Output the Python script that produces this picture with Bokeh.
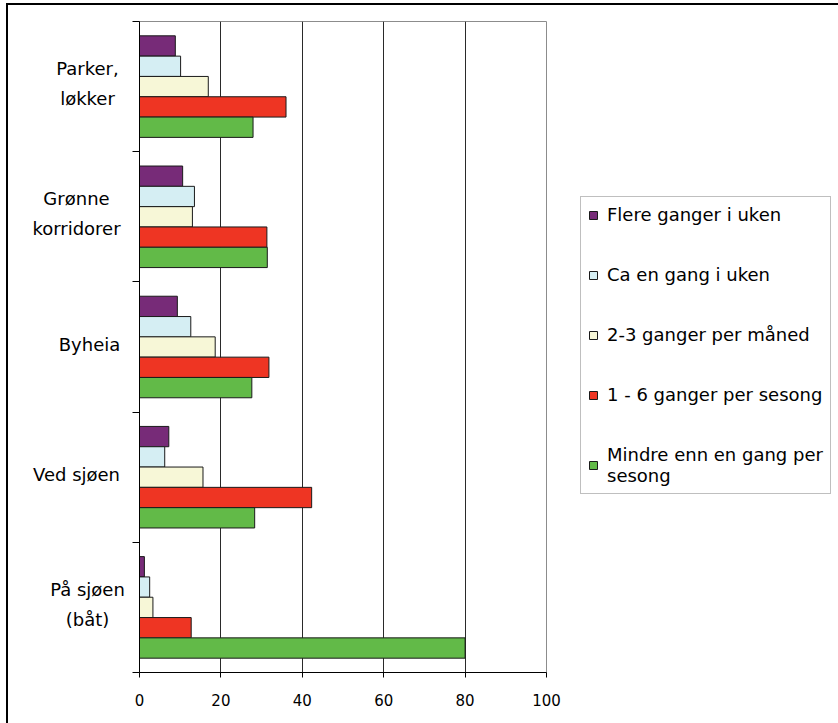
from bokeh.plotting import figure
from bokeh.models import Range1d, FixedTicker, Legend, LegendItem
from bokeh.core.properties import value
from bokeh.layouts import row
from bokeh.embed import file_html
from bokeh.resources import INLINE

# ---- data ----
categories = ["Parker,\nløkker", "Grønne\nkorridorer", "Byheia", "Ved sjøen", "På sjøen\n(båt)"]
series_names = ["Flere ganger i uken", "Ca en gang i uken", "2-3 ganger per måned",
                "1 - 6 ganger per sesong", "Mindre enn en gang per\nsesong"]
flere_ganger = [8.8, 10.6, 9.3, 7.2, 1.2]
ca_en_gang = [10.1, 13.5, 12.6, 6.2, 2.5]
to_tre_ganger = [16.9, 13.0, 18.6, 15.6, 3.3]
en_seks_ganger = [36.0, 31.3, 31.8, 42.3, 12.7]
mindre_enn = [27.9, 31.4, 27.6, 28.3, 80.0]
x_ticks = [0, 20, 40, 60, 80, 100]

series_values = [flere_ganger, ca_en_gang, to_tre_ganger, en_seks_ganger, mindre_enn]
colors = ["#772B78", "#D5EEF3", "#F7F7D7", "#EE3523", "#62BA48"]

n = len(categories)
bar_h = 0.156
centers = [n - 1 - i + 0.5 for i in range(n)]

# ---- main chart ----
p = figure(width=706, height=718, frame_width=407, frame_height=651,
           min_border_left=7, min_border_right=292, min_border_top=16, min_border_bottom=51,
           x_range=Range1d(0, 100), y_range=Range1d(0, n),
           output_backend="svg", toolbar_location=None,
           background_fill_color="white", border_fill_color="white")
p.outline_line_color = "#8C8C8C"
p.outline_line_width = 1

renderers = []
for k, vals in enumerate(series_values):
    ys = [c + (2 - k) * bar_h for c in centers]
    r = p.hbar(y=ys, left=0, right=vals, height=bar_h,
               fill_color=colors[k], line_color="#1A1A1A", line_width=1)
    renderers.append(r)

p.xaxis.ticker = FixedTicker(ticks=x_ticks)
p.xaxis.major_tick_out = 5
p.xaxis.major_tick_in = 0
p.xaxis.minor_tick_line_color = None
p.xaxis.axis_line_color = "black"
p.xaxis.major_tick_line_color = "black"
p.xaxis.major_label_text_font = "DejaVu Sans"
p.xaxis.major_label_text_font_size = "15px"
p.xaxis.major_label_text_color = "black"
p.xaxis.major_label_standoff = 16

p.yaxis.ticker = FixedTicker(ticks=list(range(n + 1)))
p.yaxis.major_label_overrides = {i: "" for i in range(n + 1)}
p.yaxis.major_tick_out = 7
p.yaxis.major_tick_in = 0
p.yaxis.major_label_standoff = 0
p.yaxis.minor_tick_line_color = None
p.yaxis.axis_line_color = "black"
p.yaxis.major_tick_line_color = "black"

p.xgrid.ticker = FixedTicker(ticks=[20, 40, 60, 80])
p.xgrid.grid_line_color = "#2A2A2A"
p.xgrid.grid_line_width = 1
p.ygrid.visible = False

legend = Legend(items=[LegendItem(label=series_names[k], renderers=[renderers[k]]) for k in range(5)],
                location=(34, 178))
legend.border_line_color = "#808080"
legend.border_line_width = 1
legend.background_fill_color = "white"
legend.background_fill_alpha = 1
legend.padding = 7
legend.spacing = 39
legend.margin = 0
legend.glyph_width = 10
legend.glyph_height = 10
legend.label_standoff = 9
legend.label_height = 20
legend.label_text_font = "DejaVu Sans"
legend.label_text_font_size = "18px"
legend.label_text_line_height = 1.5
legend.label_text_color = "black"
p.add_layout(legend, "right")

# ---- category labels (left strip sharing the y scale) ----
label_x = [79, 68, 81, 68, 79]  # horizontal centre of each label block in the strip (px)
lab = figure(width=124, height=718, frame_width=124, frame_height=651,
             min_border_left=0, min_border_right=0, min_border_top=16, min_border_bottom=51,
             x_range=Range1d(0, 124), y_range=p.y_range,
             x_axis_location=None, y_axis_location=None,
             output_backend="svg", toolbar_location=None,
             background_fill_color="white", border_fill_color="white")
lab.outline_line_color = None
lab.xgrid.visible = False
lab.ygrid.visible = False
lab.text(x=label_x, y=centers, text=categories, y_offset=-3,
         text_align="center", text_baseline="middle",
         text_font=value("DejaVu Sans"), text_font_size=value("18px"),
         text_line_height=1.42, text_color="black")

layout = row(lab, p)
layout.styles = {"margin-left": "6px", "margin-top": "3px",
                 "border-left": "2px solid black", "border-top": "2px solid black"}

open("out.html", "w").write(file_html(layout, INLINE))
